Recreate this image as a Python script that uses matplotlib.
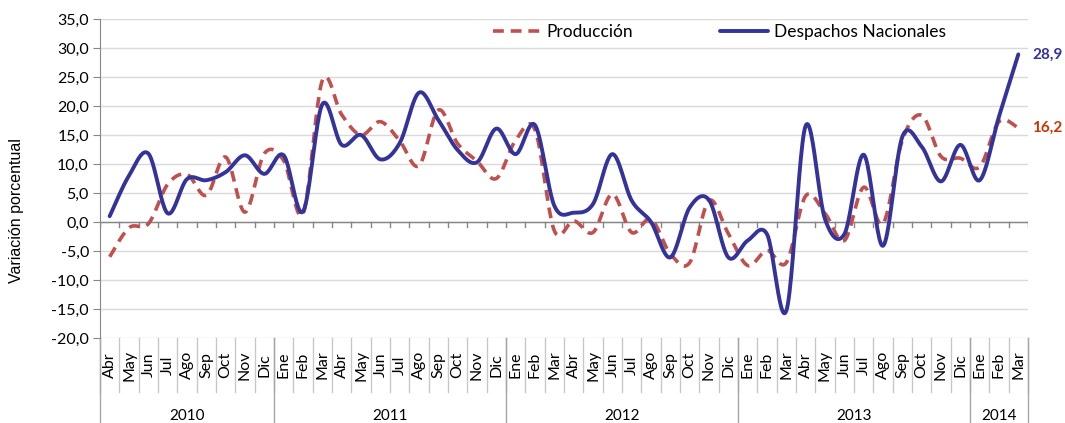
import numpy as np
import matplotlib
matplotlib.use('Agg')
import matplotlib.pyplot as plt

# Data (variación porcentual, Abr 2010 - Mar 2014)
months = ['Abr', 'May', 'Jun', 'Jul', 'Ago', 'Sep', 'Oct', 'Nov', 'Dic'] + \
         ['Ene', 'Feb', 'Mar', 'Abr', 'May', 'Jun', 'Jul', 'Ago', 'Sep', 'Oct', 'Nov', 'Dic'] * 3 + \
         ['Ene', 'Feb', 'Mar']
years = ['2010', '2011', '2012', '2013', '2014']
year_counts = [9, 12, 12, 12, 3]

produccion = [-6.0, -1.0, -0.3, 6.5, 8.2, 4.6, 11.2, 1.7, 11.8,
              10.6, 1.4, 24.4, 18.5, 15.0, 17.3, 14.0, 9.7, 19.3, 13.5, 10.5, 7.5,
              14.1, 15.9, -1.5, 0.2, -1.8, 4.8, -1.8, 0.5, -5.5, -7.0, 3.7, -2.0,
              -7.5, -4.9, -7.0, 4.5, 1.5, -3.2, 6.0, -0.3, 14.1, 18.4, 11.3, 11.0,
              9.5, 17.3, 16.2]
despachos = [1.0, 8.0, 11.8, 1.5, 7.4, 7.2, 8.6, 11.5, 8.3,
             11.5, 1.8, 20.3, 13.3, 15.0, 10.8, 13.6, 22.3, 17.6, 12.4, 10.3, 16.1,
             11.7, 16.7, 2.8, 1.6, 3.1, 11.7, 3.7, 0.0, -6.1, 2.5, 3.8, -6.1,
             -3.2, -2.1, -15.3, 16.6, 0.5, -2.1, 11.6, -4.1, 14.7, 13.0, 7.0, 13.3,
             7.2, 18.2, 28.9]

BLUE = '#333399'
RED = '#C0504D'
LABEL_RED = '#CC3300'


def smooth(y, n=24):
    # Excel-style smoothed line (Catmull-Rom as cubic Bezier segments)
    y = np.asarray(y, dtype=float)
    x = np.arange(len(y), dtype=float)
    pts = np.column_stack([x, y])
    pad = np.vstack([pts[0], pts, pts[-1]])
    t = np.linspace(0, 1, n, endpoint=False)[:, None]
    out = []
    for i in range(len(pts) - 1):
        p0, p1, p2, p3 = pad[i], pad[i + 1], pad[i + 2], pad[i + 3]
        c1 = p1 + (p2 - p0) / 6.0
        c2 = p2 - (p3 - p1) / 6.0
        seg = ((1 - t) ** 3) * p1 + 3 * ((1 - t) ** 2) * t * c1 + 3 * (1 - t) * t ** 2 * c2 + t ** 3 * p2
        out.append(seg)
    out.append(pts[-1:])
    out = np.vstack(out)
    return out[:, 0], out[:, 1]


plt.rcParams['font.family'] = ['Lato', 'DejaVu Sans']

fig = plt.figure(figsize=(10.65, 4.23), dpi=100)
ax = fig.add_axes([100 / 1065, 1 - 338 / 423, 928 / 1065, 319 / 423])

n = len(months)
xs, ys = smooth(produccion)
ax.plot(xs, ys, color=RED, lw=2.6, ls=(0, (3.0, 1.9)), label='Producción', zorder=3)
xs, ys = smooth(despachos)
ax.plot(xs, ys, color=BLUE, lw=2.8, label='Despachos Nacionales', zorder=4, solid_capstyle='round')

ax.set_xlim(-0.5, n - 0.5)
ax.set_ylim(-20, 35)
yt = np.arange(-20, 36, 5)
ax.set_yticks(yt)
ax.set_yticklabels([('%.1f' % v).replace('.', ',') for v in yt], fontsize=11.5)
ax.tick_params(axis='y', length=5, color='#868686', pad=3)
ax.yaxis.grid(True, color='#D9D9D9', lw=1)
ax.set_axisbelow(True)
ax.set_xticks([])
for s in ['top', 'right', 'bottom']:
    ax.spines[s].set_visible(False)
ax.spines['left'].set_color('#868686')

# Zero line with small category ticks
ax.axhline(0, color='#868686', lw=1, zorder=2)
for b in np.arange(-0.5, n, 1.0):
    ax.plot([b, b], [0, -0.9], color='#868686', lw=1, zorder=2)

# Two-level category axis under the plot
tr = ax.get_xaxis_transform()
for i, m in enumerate(months):
    ax.text(i, -0.085, m, transform=tr, rotation=90, ha='center', va='center', fontsize=11.5)
for b in np.arange(-0.5, n, 1.0):
    ax.plot([b, b], [0, -0.169], transform=tr, color='#C8C8C8', lw=1, clip_on=False)
start = -0.5
for yr, c in zip(years, year_counts):
    ax.plot([start, start], [0, -0.27], transform=tr, color='#A6A6A6', lw=1, clip_on=False)
    ax.text(start + c / 2.0, -0.245, yr, transform=tr, ha='center', va='center', fontsize=11)
    start += c
ax.plot([start, start], [0, -0.27], transform=tr, color='#A6A6A6', lw=1, clip_on=False)

# End labels
ax.annotate('28,9', xy=(n - 1, despachos[-1]), xytext=(10, 0), textcoords='offset points',
            color=BLUE, fontsize=11, fontweight='bold', va='center', ha='left')
ax.annotate('16,2', xy=(n - 1, produccion[-1]), xytext=(10, 0), textcoords='offset points',
            color=LABEL_RED, fontsize=11, fontweight='bold', va='center', ha='left')

fig.text(17 / 1065, 1 - 211 / 423, 'Variación porcentual', rotation=90, ha='center', va='center',
         fontsize=11.5, family=['Liberation Sans', 'DejaVu Sans'])

ax.legend(loc='center left', bbox_to_anchor=(0.423, 0.958), ncol=2, frameon=False, fontsize=12.5,
          handlelength=2.8, handletextpad=0.3, columnspacing=5.0, borderpad=0, borderaxespad=0)

fig.savefig('out.png', dpi=100)
